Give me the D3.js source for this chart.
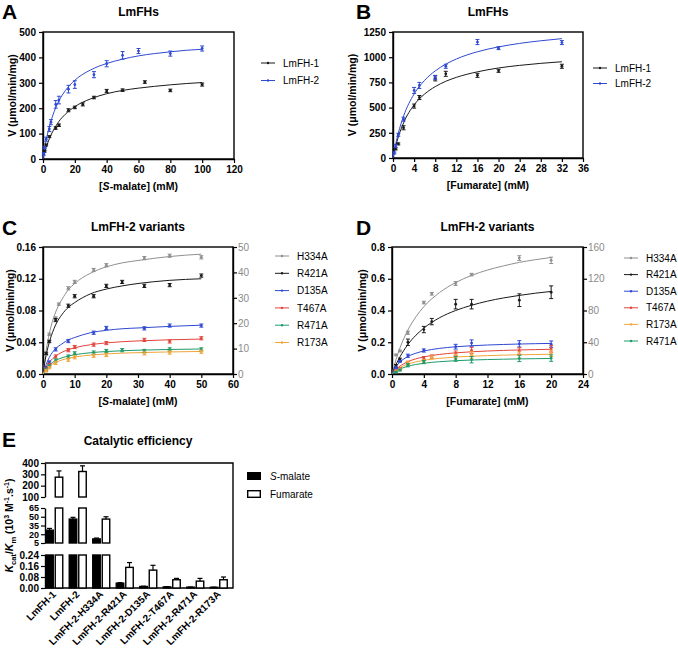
<!DOCTYPE html>
<html><head><meta charset="utf-8">
<script src="https://cdn.jsdelivr.net/npm/d3@7"></script>
<style>body{margin:0;background:#fff} text{font-family:"Liberation Sans",Arial,sans-serif}</style>
</head><body><svg id="c" width="678" height="653"></svg>
<script>
// ---------- Panel A data (S-malate, LmFHs) ----------
const aX1 = [1,2,4,8,10,16,20,25,32,40,50,64,80,100];
const aY1 = [30,55,88,122,133,192,203,215,242,268,271,303,270,293];
const aE1 = [3,4,4,5,5,6,5,6,5,6,5,5,5,6];
const aX2 = [0.5,1,2,4,5,8,10,16,20,32,40,50,60,80,100];
const aY2 = [20,45,78,118,145,215,232,275,293,332,375,408,425,415,435];
const aE2 = [5,5,8,10,10,15,15,15,15,12,12,15,10,10,10];
const aFitX = [0,1,2,4,6,8,10,14,20,30,40,50,60,70,80,90,100];
const aFit1 = [0,24,45,80,107,129,148,176,206,237,257,270,279,286,292,297,301];
const aFit2 = [0,40,74,128,169,202,229,269,310,351,376,393,406,415,422,428,432];

// ---------- Panel B data (Fumarate, LmFHs) ----------
const bX1 = [0.5,1,2,4,5,8,10,16,20,32];
const bY1 = [90,140,300,515,600,790,835,820,865,910];
const bE1 = [10,10,20,20,20,25,25,20,15,20];
const bX2 = [0.25,0.5,1,2,4,5,8,10,16,20,32];
const bY2 = [50,120,230,385,670,720,800,910,1150,1090,1145];
const bE2 = [10,15,15,20,30,30,20,20,25,15,20];
const bFitX = [0,0.5,1,2,4,6,8,10,12,16,20,24,28,32];
const bFit1 = [0,115,208,348,527,635,708,761,800,855,893,919,939,955];
const bFit2 = [0,135,245,415,635,771,864,931,982,1054,1102,1137,1163,1184];

// ---------- Panel C data (S-malate, variants) ----------
const cX = [1,2,4,5,8,10,16,20,25,32,40,50];
const cH334A = [0.025,0.050,0.070,0.088,0.108,0.116,0.131,0.137,null,0.146,0.149,0.147];
const cR421A = [0.026,0.041,0.068,null,0.086,0.098,0.098,0.111,0.116,0.111,0.112,0.124];
const cD135A = [0.008,0.015,0.031,null,0.0415,null,0.052,0.058,null,0.0575,0.061,0.061];
const cT467A = [0.006,0.012,0.022,null,0.030,0.034,0.037,0.039,null,0.043,0.041,0.045];
const cR471A = [0.005,0.010,0.017,null,0.022,0.026,0.027,0.029,0.030,0.029,0.031,0.031];
const cR173A = [0.004,0.008,0.014,null,0.018,0.021,0.023,0.024,null,0.026,0.027,0.028];
const cErr = [0.0015,0.0015,0.002,0.0015,0.002,0.002,0.002,0.002,0.002,0.002,0.002,0.002];
const cFitX = [0,1,2,4,6,8,10,15,20,25,30,40,50];
const cFitH334A = [0,0.030,0.051,0.078,0.094,0.106,0.114,0.127,0.135,0.140,0.143,0.148,0.151];
const cFitR421A = [0,0.024,0.040,0.062,0.075,0.084,0.090,0.101,0.107,0.111,0.114,0.118,0.120];
const cFitD135A = [0,0.012,0.021,0.032,0.038,0.043,0.046,0.052,0.055,0.057,0.058,0.060,0.0615];
const cFitT467A = [0,0.0087,0.0148,0.0226,0.0274,0.0307,0.0331,0.0369,0.0392,0.0407,0.0417,0.0431,0.044];
const cFitR471A = [0,0.0068,0.0113,0.017,0.0204,0.0227,0.0243,0.0268,0.0283,0.0293,0.030,0.0309,0.0315];
const cFitR173A = [0,0.0056,0.0095,0.0146,0.0177,0.0198,0.0214,0.0238,0.0253,0.0263,0.0269,0.0278,0.0284];

// ---------- Panel D data (Fumarate, variants) ----------
const dX = [0.5,1,2,4,5,8,10,16,20];
const dH334A = [0.12,0.145,0.26,0.45,0.505,0.57,0.626,0.73,0.716];
const dR421A = [0.05,0.09,0.20,0.28,0.33,0.44,0.44,0.465,0.515];
const dD135A = [0.04,0.08,0.115,0.148,null,0.172,0.195,0.19,0.188];
const dT467A = [0.02,0.035,0.07,0.10,0.11,0.13,0.148,0.145,0.158];
const dR173A = [0.015,0.03,0.07,0.08,0.105,0.11,0.12,0.12,0.13];
const dR471A = [0.012,0.025,0.055,0.075,null,0.095,0.09,0.098,0.10];
const dErrH334A = [0.005,0.005,0.01,0.008,0.008,0.012,0.008,0.015,0.02];
const dErrR421A = [0.01,0.01,0.02,0.02,0.02,0.03,0.03,0.04,0.04];
const dErrSmall = [0.005,0.006,0.01,0.01,0.01,0.015,0.02,0.02,0.02];
const dFitX = [0,0.5,1,2,3,4,6,8,10,12,14,16,18,20];
const dFitH334A = [0,0.09,0.164,0.277,0.36,0.424,0.514,0.576,0.621,0.655,0.681,0.703,0.72,0.734];
const dFitR421A = [0,0.059,0.108,0.186,0.244,0.289,0.355,0.40,0.433,0.459,0.479,0.495,0.509,0.52];
const dFitD135A = [0,0.0457,0.075,0.1105,0.131,0.1448,0.1615,0.1714,0.178,0.1826,0.186,0.1888,0.191,0.1927];
const dFitT467A = [0,0.0292,0.05,0.0778,0.0955,0.1077,0.1235,0.1333,0.14,0.1448,0.1485,0.1514,0.1537,0.1556];
const dFitR173A = [0,0.0233,0.04,0.0622,0.0764,0.0862,0.0988,0.1067,0.112,0.1159,0.1188,0.1211,0.1229,0.1244];
const dFitR471A = [0,0.0183,0.0314,0.0489,0.06,0.0677,0.0776,0.0838,0.088,0.0911,0.0933,0.0951,0.0966,0.0978];

// ---------- Panel E data (catalytic efficiency) ----------
const eCategories = ["LmFH-1","LmFH-2","LmFH-2-H334A","LmFH-2-R421A","LmFH-2-D135A","LmFH-2-T467A","LmFH-2-R471A","LmFH-2-R173A"];
const eMalate = [27,46,12,0.035,0.011,0.008,0.006,0.005];
const eMalateErr = [3,3,1.5,0.004,0.002,0.002,0.001,0.001];
const eFumarate = [275,325,46,0.15,0.13,0.06,0.05,0.06];
const eFumarateErr = [55,50,4,0.035,0.035,0.01,0.02,0.02];
const eTicksTop = [100,200,300,400];
const eTicksMid = [5,20,35,50,65];
const eTicksLow = [0,0.08,0.16,0.24];

const COL = {gray:"#8f8f8f", black:"#1a1a1a", blue:"#2f49d1", red:"#e2453c", green:"#1f9a6b", orange:"#f2a53a"};

const svg = d3.select("#c");
svg.append("rect").attr("width",678).attr("height",653).attr("fill","#fff");

function styleAxis(sel, bold=true, color="#000", size=10) {
  sel.select(".domain").attr("stroke","#000").attr("stroke-width",1.4);
  sel.selectAll(".tick line").attr("stroke","#000").attr("stroke-width",1.2);
  sel.selectAll(".tick text").attr("font-size",size).attr("font-weight",bold?"bold":"normal")
     .attr("fill",color).attr("font-family","'Liberation Sans',Arial,sans-serif");
}

function label(g, x, y, txt, size, weight, anchor) {
  return g.append("text").attr("x",x).attr("y",y).attr("font-size",size)
    .attr("font-weight",weight||"bold").attr("text-anchor",anchor||"middle").text(txt);
}

function kinPanel(o) {
  const g = svg.append("g");
  const x = d3.scaleLinear().domain(o.xd).range([o.l,o.r]);
  const y = d3.scaleLinear().domain(o.yd).range([o.b,o.t]);
  g.append("rect").attr("x",o.l).attr("y",o.t).attr("width",o.r-o.l).attr("height",o.b-o.t)
    .attr("fill","none").attr("stroke","#000").attr("stroke-width",1.4);
  g.append("g").attr("transform",`translate(0,${o.b})`)
    .call(d3.axisBottom(x).tickValues(o.xt).tickSize(4).tickSizeOuter(0).tickPadding(3).tickFormat(d3.format("d")))
    .call(s=>styleAxis(s));
  g.append("g").attr("transform",`translate(${o.l},0)`)
    .call(d3.axisLeft(y).tickValues(o.yt).tickSize(4).tickSizeOuter(0).tickPadding(3).tickFormat(o.yf))
    .call(s=>styleAxis(s));
  if (o.rd) {
    const yr = d3.scaleLinear().domain(o.rd).range([o.b,o.t]);
    g.append("g").attr("transform",`translate(${o.r},0)`)
      .call(d3.axisRight(yr).tickValues(o.rt).tickSize(4).tickSizeOuter(0).tickPadding(1).tickFormat(d3.format("d")))
      .call(s=>styleAxis(s,false,"#8a8a8a"));
  }
  const line = d3.line().x(d=>x(d[0])).y(d=>y(d[1])).curve(d3.curveMonotoneX);
  o.series.forEach(s=>{
    g.append("path").datum(s.fx.map((v,i)=>[v,s.fy[i]])).attr("d",line)
      .attr("fill","none").attr("stroke",s.color).attr("stroke-width",1);
  });
  o.series.forEach(s=>{
    s.px.forEach((xv,i)=>{
      const v = s.py[i]; if (v==null) return;
      const e = s.pe[i];
      const cx = x(xv);
      g.append("line").attr("x1",cx).attr("x2",cx).attr("y1",y(v-e)).attr("y2",y(v+e))
        .attr("stroke",s.color).attr("stroke-width",1);
      [v-e,v+e].forEach(w=>g.append("line").attr("x1",cx-2).attr("x2",cx+2).attr("y1",y(w)).attr("y2",y(w))
        .attr("stroke",s.color).attr("stroke-width",1));
      g.append("circle").attr("cx",cx).attr("cy",y(v)).attr("r",1.4).attr("fill",s.color);
    });
  });
  label(g,(o.l+o.r)/2,o.titleY,o.title,12);
  label(g,o.letterX,o.letterY,o.letter,21,"bold","start");
  const xl = g.append("text").attr("x",(o.l+o.r)/2).attr("y",o.b+31).attr("font-size",10.5)
    .attr("font-weight","bold").attr("text-anchor","middle");
  o.xlab.forEach(p=>xl.append("tspan").attr("font-style",p[1]?"italic":"normal").text(p[0]));
  g.append("text").attr("transform",`translate(${o.ylx},${(o.t+o.b)/2}) rotate(-90)`)
    .attr("font-size",10.5).attr("font-weight","bold").attr("text-anchor","middle")
    .text("V (\u03bcmol/min/mg)");
  o.series.forEach((s,i)=>{
    const ly = o.legY + i*o.legDy;
    g.append("line").attr("x1",o.legX).attr("x2",o.legX+14).attr("y1",ly).attr("y2",ly)
      .attr("stroke",s.color).attr("stroke-width",1);
    g.append("circle").attr("cx",o.legX+7).attr("cy",ly).attr("r",1.2).attr("fill",s.color);
    label(g,o.legX+22,ly+3.6,s.name,10,"normal","start");
  });
}

kinPanel({l:43,r:234,t:32,b:159,xd:[0,120],yd:[0,500],xt:d3.range(0,121,20),yt:d3.range(0,501,100),
  yf:d3.format("d"),title:"LmFHs",titleY:16,letter:"A",letterX:2,letterY:19,ylx:16,
  xlab:[["[",0],["S",1],["-malate] (mM)",0]],legX:261,legY:63,legDy:17.5,
  series:[{name:"LmFH-1",color:COL.black,px:aX1,py:aY1,pe:aE1,fx:aFitX,fy:aFit1},
          {name:"LmFH-2",color:COL.blue,px:aX2,py:aY2,pe:aE2,fx:aFitX,fy:aFit2}]});

kinPanel({l:393,r:583,t:32,b:158,xd:[0,36],yd:[0,1250],xt:d3.range(0,37,4),yt:d3.range(0,1251,250),
  yf:d3.format("d"),title:"LmFHs",titleY:16,letter:"B",letterX:356,letterY:19,ylx:356,
  xlab:[["[Fumarate] (mM)",0]],legX:593,legY:68,legDy:15.5,
  series:[{name:"LmFH-1",color:COL.black,px:bX1,py:bY1,pe:bE1,fx:bFitX,fy:bFit1},
          {name:"LmFH-2",color:COL.blue,px:bX2,py:bY2,pe:bE2,fx:bFitX,fy:bFit2}]});

kinPanel({l:43,r:233,t:247,b:374,xd:[0,60],yd:[0,0.16],xt:d3.range(0,61,10),yt:[0,0.04,0.08,0.12,0.16],
  yf:d3.format(".2f"),rd:[0,50],rt:d3.range(0,51,10),title:"LmFH-2 variants",titleY:231,letter:"C",letterX:2,letterY:235,ylx:14,
  xlab:[["[",0],["S",1],["-malate] (mM)",0]],legX:275,legY:256,legDy:17.3,
  series:[{name:"H334A",color:COL.gray,px:cX,py:cH334A,pe:cErr,fx:cFitX,fy:cFitH334A},
          {name:"R421A",color:COL.black,px:cX,py:cR421A,pe:cErr,fx:cFitX,fy:cFitR421A},
          {name:"D135A",color:COL.blue,px:cX,py:cD135A,pe:cErr,fx:cFitX,fy:cFitD135A},
          {name:"T467A",color:COL.red,px:cX,py:cT467A,pe:cErr,fx:cFitX,fy:cFitT467A},
          {name:"R471A",color:COL.green,px:cX,py:cR471A,pe:cErr,fx:cFitX,fy:cFitR471A},
          {name:"R173A",color:COL.orange,px:cX,py:cR173A,pe:cErr,fx:cFitX,fy:cFitR173A}]});

kinPanel({l:392,r:583,t:247,b:374,xd:[0,24],yd:[0,0.8],xt:d3.range(0,25,4),yt:[0,0.2,0.4,0.6,0.8],
  yf:d3.format(".1f"),rd:[0,160],rt:d3.range(0,161,40),title:"LmFH-2 variants",titleY:231,letter:"D",letterX:356,letterY:235,ylx:366,
  xlab:[["[Fumarate] (mM)",0]],legX:624,legY:258,legDy:16.6,
  series:[{name:"H334A",color:COL.gray,px:dX,py:dH334A,pe:dErrH334A,fx:dFitX,fy:dFitH334A},
          {name:"R421A",color:COL.black,px:dX,py:dR421A,pe:dErrR421A,fx:dFitX,fy:dFitR421A},
          {name:"D135A",color:COL.blue,px:dX,py:dD135A,pe:dErrSmall,fx:dFitX,fy:dFitD135A},
          {name:"T467A",color:COL.red,px:dX,py:dT467A,pe:dErrSmall,fx:dFitX,fy:dFitT467A},
          {name:"R173A",color:COL.orange,px:dX,py:dR173A,pe:dErrSmall,fx:dFitX,fy:dFitR173A},
          {name:"R471A",color:COL.green,px:dX,py:dR471A,pe:dErrSmall,fx:dFitX,fy:dFitR471A}]});

// ---------- Panel E ----------
(function(){
  const g = svg.append("g");
  const L=45, R=233, T=463, B=588;
  const x = d3.scaleBand().domain(eCategories).range([L-3,R-3]).padding(0);
  const segs = [
    {lo:0,hi:0.24,y:d3.scaleLinear().domain([0,0.24]).range([588,555]),ticks:eTicksLow,f:d3.format(".2f"),fs:10},
    {lo:5,hi:65,y:d3.scaleLinear().domain([5,65]).range([543,508]),ticks:eTicksMid,f:d3.format("d"),fs:9},
    {lo:100,hi:400,y:d3.scaleLinear().domain([100,400]).range([497,463]),ticks:eTicksTop,f:d3.format("d"),fs:10}
  ];
  g.append("path").attr("d",`M${L},${T}H${R}V${B}H${L}`).attr("fill","none").attr("stroke","#000").attr("stroke-width",1.4);
  segs.forEach(s=>{
    g.append("g").attr("transform",`translate(${L},0)`)
      .call(d3.axisLeft(s.y).tickValues(s.ticks).tickSize(4).tickSizeOuter(0).tickPadding(2).tickFormat(s.f))
      .call(a=>styleAxis(a,true,"#000",s.fs));
  });
  const bw = 7.5;
  const series = [
    {vals:eMalate,err:eMalateErr,off:-bw-0.5,fill:"#000"},
    {vals:eFumarate,err:eFumarateErr,off:1.5,fill:"#fff"}
  ];
  series.forEach(sr=>{
    eCategories.forEach((c,i)=>{
      const v = sr.vals[i], e = sr.err[i];
      const bx = x(c)+x.bandwidth()/2+sr.off;
      segs.forEach(s=>{
        if (v<=s.lo) return;
        const top = Math.min(v,s.hi);
        g.append("rect").attr("x",bx).attr("y",s.y(top)).attr("width",bw).attr("height",s.y(s.lo)-s.y(top))
          .attr("fill",sr.fill).attr("stroke","#000").attr("stroke-width",1.4);
        if (v<=s.hi) {
          const cx = bx+bw/2;
          const ye = s.y(Math.min(v+e,s.hi));
          g.append("line").attr("x1",cx).attr("x2",cx).attr("y1",s.y(v)).attr("y2",ye).attr("stroke","#000").attr("stroke-width",1.2);
          g.append("line").attr("x1",cx-2.5).attr("x2",cx+2.5).attr("y1",ye).attr("y2",ye).attr("stroke","#000").attr("stroke-width",1.2);
        }
      });
    });
  });
  eCategories.forEach(c=>{
    const cx = x(c)+x.bandwidth()/2;
    g.append("text").attr("transform",`translate(${cx+3},${B+7}) rotate(-45)`)
      .attr("font-size",10).attr("font-weight","bold").attr("text-anchor","end").text(c);
  });
  label(g,138,445,"Catalytic efficiency",12);
  label(g,2,447,"E",21,"bold","start");
  const yl = g.append("text").attr("transform",`translate(13,${(T+B)/2}) rotate(-90)`)
    .attr("font-size",10.5).attr("font-weight","bold").attr("text-anchor","middle");
  yl.append("tspan").attr("font-style","italic").text("K");
  yl.append("tspan").attr("font-size",7.5).attr("dy",2.5).text("cat");
  yl.append("tspan").attr("dy",-2.5).text("/");
  yl.append("tspan").attr("font-style","italic").text("K");
  yl.append("tspan").attr("font-size",7.5).attr("dy",2.5).text("m");
  yl.append("tspan").attr("dy",-2.5).text(" (10");
  yl.append("tspan").attr("font-size",7).attr("dy",-4).text("3");
  yl.append("tspan").attr("dy",4).text(" M");
  yl.append("tspan").attr("font-size",7).attr("dy",-4).text("-1");
  yl.append("tspan").attr("dy",4).text(".s");
  yl.append("tspan").attr("font-size",7).attr("dy",-4).text("-1");
  yl.append("tspan").attr("dy",4).text(")");
  g.append("rect").attr("x",247).attr("y",472).attr("width",14).attr("height",8).attr("fill","#000");
  g.append("rect").attr("x",247.7).attr("y",490.7).attr("width",12.6).attr("height",6.6).attr("fill","#fff").attr("stroke","#000").attr("stroke-width",1.4);
  const t1 = g.append("text").attr("x",270).attr("y",480).attr("font-size",10);
  t1.append("tspan").attr("font-style","italic").text("S");
  t1.append("tspan").text("-malate");
  label(g,270,498,"Fumarate",10,"normal","start");
})();
</script>
</body></html>
